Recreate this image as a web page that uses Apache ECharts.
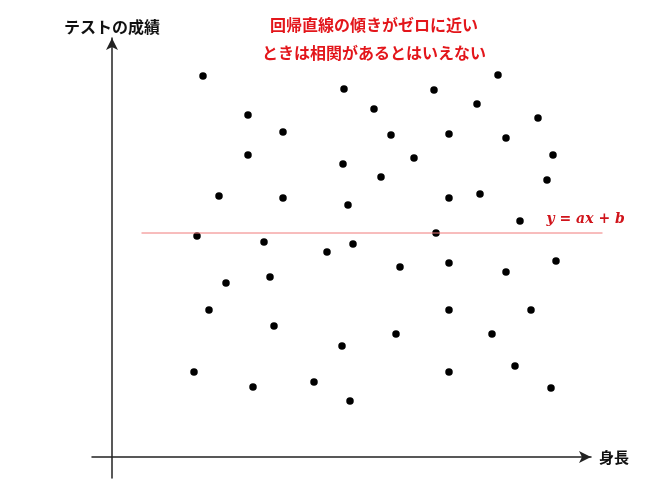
<!DOCTYPE html>
<html>
<head>
<meta charset="utf-8">
<script src="https://cdn.jsdelivr.net/npm/echarts@6/dist/echarts.min.js"></script>
<style>
  html, body { margin: 0; padding: 0; background: #fff; }
  #chart { width: 650px; height: 483px; }
</style>
</head>
<body>
<div id="chart"></div>
<script>
// 身長 (x) とテストの成績 (y)、単位は図から読み取った目盛りなしの相対値
var heights = [91, 232, 322, 386, 365, 262, 136, 171, 279, 337, 394, 426,
               136, 231, 302, 441, 269, 435, 107, 171, 236, 337, 368, 408,
               85, 152, 215, 241, 324, 288, 337, 394, 444, 158, 114, 97,
               337, 419, 162, 284, 380, 230, 82, 141, 202, 238, 337, 403, 439];
var scores = [381, 368, 367, 382, 353, 348, 342, 325, 322, 323, 319, 339,
              302, 293, 299, 302, 280, 277, 261, 259, 252, 259, 263, 236,
              221, 215, 205, 213, 224, 190, 194, 185, 196, 180, 174, 147,
              147, 147, 131, 123, 123, 111, 85, 70, 75, 56, 85, 91, 69];
// 回帰直線 (傾きほぼゼロ)
var regX = [29.5, 490.5];
var regY = [224, 224];

var titleLines = ['回帰直線の傾きがゼロに近い', 'ときは相関があるとはいえない'];
var xName = '身長';
var yName = 'テストの成績';
var lineLabel = 'y = ax + b';

var points = heights.map(function (h, i) { return [h, scores[i]]; });
var regLine = regX.map(function (x, i) { return [x, regY[i]]; });

var chart = echarts.init(document.getElementById('chart'));
var axisColor = '#222';
var jpFont = '"Noto Sans CJK JP", sans-serif';

// 軸の見た目（目盛りなし、矢印つき）
function arrowAxis(name, min, max, nameStyle) {
    return {
        type: 'value',
        min: min,
        max: max,
        name: name,
        nameLocation: 'end',
        nameGap: 8,
        nameTextStyle: nameStyle,
        axisLine: {
            onZero: true,
            symbol: ['none', 'arrow'],
            symbolSize: [9, 12],
            lineStyle: { color: axisColor, width: 1.5 }
        },
        axisTick: { show: false },
        axisLabel: { show: false },
        splitLine: { show: false }
    };
}

// 回帰直線は軸の矢印より右まで伸びるので、少し広い見えない座標系に描く
function hiddenAxis(min, max) {
    return {
        type: 'value', min: min, max: max, show: false,
        gridIndex: 1
    };
}

chart.setOption({
    animation: false,
    title: {
        text: titleLines.join('\n'),
        left: 369,
        top: 6,
        textAlign: 'center',
        textStyle: {
            color: '#e3161b',
            fontSize: 16,
            fontWeight: 'bold',
            fontFamily: jpFont,
            lineHeight: 28
        }
    },
    grid: [
        { left: 92, right: 59, top: 38, bottom: 5 },
        { left: 92, right: 47, top: 38, bottom: 5 }
    ],
    xAxis: [
        arrowAxis(xName, -20, 479,
            { color: '#111', fontSize: 15, fontFamily: jpFont, fontWeight: 'bold' }),
        hiddenAxis(-20, 491)
    ],
    yAxis: [
        arrowAxis(yName, -21, 419,
            { color: '#111', fontSize: 16, fontFamily: jpFont, fontWeight: 'bold', align: 'center', padding: [0, 0, -5, 0] }),
        hiddenAxis(-21, 419)
    ],
    series: [
        {
            type: 'line',
            xAxisIndex: 1,
            yAxisIndex: 1,
            data: regLine,
            symbol: 'none',
            silent: true,
            lineStyle: { color: '#f07b7b', width: 1 },
            endLabel: {
                show: true,
                formatter: lineLabel,
                offset: [-64, -14],
                color: '#d0141b',
                fontSize: 14,
                fontStyle: 'italic',
                fontWeight: 'bold',
                fontFamily: '"DejaVu Serif", "Liberation Serif", serif'
            }
        },
        {
            type: 'scatter',
            data: points,
            symbolSize: 7.5,
            itemStyle: { color: '#000', opacity: 1 }
        }
    ]
});
</script>
</body>
</html>
